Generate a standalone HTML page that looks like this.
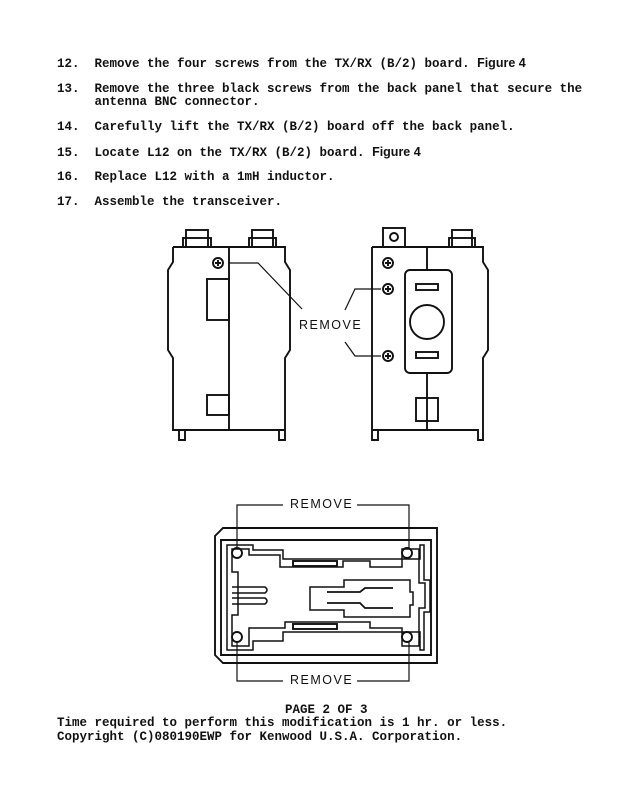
<!DOCTYPE html>
<html><head><style>
body{margin:0;background:#fff;}
.p{position:relative;width:640px;height:803px;overflow:hidden;}
.t{position:absolute;font-family:"Liberation Mono",monospace;font-size:12.5px;font-weight:bold;color:#111;white-space:pre;line-height:13px;}
svg{position:absolute;left:0;top:0;}
</style></head><body><div class="p">
<div class="t" style="left:57px;top:57px">12.  Remove the four screws from the TX/RX (B/2) board. <span style="font-family:'Liberation Sans',sans-serif;font-weight:900">Figure 4</span></div>
<div class="t" style="left:57px;top:83px">13.  Remove the three black screws from the back panel that secure the
     antenna BNC connector.</div>
<div class="t" style="left:57px;top:121px">14.  Carefully lift the TX/RX (B/2) board off the back panel.</div>
<div class="t" style="left:57px;top:146px">15.  Locate L12 on the TX/RX (B/2) board. <span style="font-family:'Liberation Sans',sans-serif;font-weight:900">Figure 4</span></div>
<div class="t" style="left:57px;top:171px">16.  Replace L12 with a 1mH inductor.</div>
<div class="t" style="left:57px;top:196px">17.  Assemble the transceiver.</div>
<div class="t" style="left:285px;top:704px">PAGE 2 OF 3</div>
<div class="t" style="left:57px;top:717px">Time required to perform this modification is 1 hr. or less.</div>
<div class="t" style="left:57px;top:731px">Copyright (C)080190EWP for Kenwood U.S.A. Corporation.</div>
<svg width="640" height="803" fill="none" stroke="#111" stroke-width="1.9">
<!-- left radio -->
<rect x="186" y="230" width="22" height="17"/><rect x="183" y="238" width="28" height="9"/>
<rect x="252" y="230" width="21" height="17"/><rect x="249" y="238" width="27" height="9"/>
<path d="M173 247 H285 V262 L290 270 V350 L285 358 V430 H179 V440 H185 V430 M285 430 H279 V440 H285 V430 M173 247 V262 L168 270 V350 L173 358 V430 H179"/>
<line x1="229" y1="247" x2="229" y2="430"/>
<circle cx="218" cy="263" r="5"/><path d="M215 263h6M218 260v6"/>
<rect x="207" y="279" width="22" height="41"/><rect x="207" y="395" width="22" height="20"/>
<path d="M229 263 H258 L302 309" stroke-width="1.2"/>
<!-- right radio -->
<rect x="383" y="228" width="22" height="19"/><circle cx="394" cy="237" r="4"/>
<rect x="452" y="230" width="20" height="17"/><rect x="449" y="238" width="26" height="9"/>
<path d="M372 247 H483 V262 L488 270 V350 L483 358 V430 M372 247 V430 H478 V440 H483 V430 M372 430 V440 H378 V430"/>
<line x1="427" y1="247" x2="427" y2="270"/><line x1="427" y1="373" x2="427" y2="430"/>
<circle cx="388" cy="263" r="5"/><path d="M385 263h6M388 260v6"/>
<circle cx="388" cy="289" r="5"/><path d="M385 289h6M388 286v6"/>
<circle cx="388" cy="356" r="5"/><path d="M385 356h6M388 353v6"/>
<rect x="405" y="270" width="47" height="103" rx="5"/>
<rect x="416" y="284" width="22" height="6"/><rect x="416" y="352" width="22" height="6"/>
<circle cx="427" cy="322" r="17"/><rect x="416" y="398" width="22" height="23"/>
<path d="M381 289 H355 L345 310 M345 342 L355 356 H381" stroke-width="1.2"/>
<!-- bottom board -->
<path d="M223 528 H437 V663 H223 L215 655 V536 Z"/>
<path d="M221 540 H431 V655 H221 Z"/>
<path d="M227 545 H253 V550 H283 V559 H420 V545 H424 V580 H430 V612 H424 V650 H420 V632 H283 V641 H253 V650 H227 Z" stroke-width="1.5"/>
<path d="M232 549 H249 V555 H280 V567 H343 V561 H370 V567 H402 V549 H419 V583 H425 V608 H419 V646 H402 V628 H370 V622 H285 V628 H249 V646 H232 V615 H238 V572 H232 Z" stroke-width="1.5"/>
<rect x="293" y="561" width="44" height="5"/><rect x="293" y="624" width="44" height="5"/>
<path d="M232 587 H265 Q269 590 265 593 H232 M232 598 H265 Q269 601 265 604 H232" stroke-width="1.5"/>
<path d="M344 580 V587 H310 V610 H344 V617 H410 V605 H413 V592 H410 V580 Z" stroke-width="1.5"/>
<path d="M327 592 H360 L365 588 H393 M327 603 H360 L365 608 H393" stroke-width="1.8"/>
<circle cx="237" cy="553" r="5"/><circle cx="407" cy="553" r="5"/>
<circle cx="237" cy="637" r="5"/><circle cx="407" cy="637" r="5"/>
<path d="M237 548 V505 H283 M357 505 H409 V548 M237 642 V681 H283 M357 681 H409 V642" stroke-width="1.2"/>
</svg>
<div class="t" style="left:299px;top:319px;font-family:'Liberation Sans',sans-serif;font-weight:normal;font-size:12.5px;letter-spacing:1.5px">REMOVE</div>
<div class="t" style="left:290px;top:498px;font-family:'Liberation Sans',sans-serif;font-weight:normal;font-size:12.5px;letter-spacing:1.5px">REMOVE</div>
<div class="t" style="left:290px;top:674px;font-family:'Liberation Sans',sans-serif;font-weight:normal;font-size:12.5px;letter-spacing:1.5px">REMOVE</div>
</div></body></html>
